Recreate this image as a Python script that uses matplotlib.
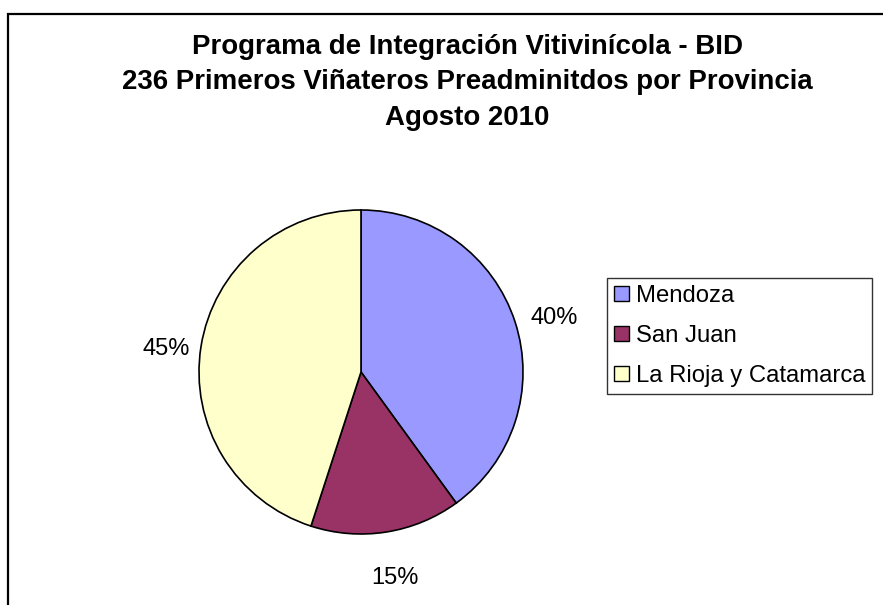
import matplotlib
matplotlib.use("Agg")
import matplotlib.pyplot as plt
from matplotlib.patches import Rectangle
from matplotlib.transforms import offset_copy

plt.rcParams['font.family'] = ['Liberation Sans', 'DejaVu Sans']

provincias = ["Mendoza", "San Juan", "La Rioja y Catamarca"]
porcentajes = [40, 15, 45]
colores = ["#9999FF", "#993366", "#FFFFCC"]
titulo = ("Programa de Integración Vitivinícola - BID\n"
          "236 Primeros Viñateros Preadminitdos por Provincia\n"
          "Agosto 2010")

W, H = 883, 605
fig = plt.figure(figsize=(W / 100, H / 100), dpi=100)

# outer chart frame (runs off the right and bottom edges)
fig.patches.append(Rectangle((8 / W, -0.05), 1.2, 1 - 14 / H + 0.05,
                             transform=fig.transFigure, fill=False,
                             edgecolor="black", linewidth=1.6))

fig.text(467 / W, 1 - 34 / H, titulo, ha="center", va="top",
         fontsize=19.9, fontweight="bold", linespacing=1.47)

# pie: centre (361, 372) px, radius 162 px
cx, cy, r = 361, 372, 162
ax = fig.add_axes([(cx - r) / W, (H - cy - r) / H, 2 * r / W, 2 * r / H])
wedges, texts, autotexts = ax.pie(
    porcentajes, colors=colores, startangle=90, counterclock=False,
    autopct="%d%%", pctdistance=1.235,
    wedgeprops=dict(edgecolor="black", linewidth=1.2),
    textprops=dict(fontsize=17))
ax.set_xlim(-1, 1)
ax.set_ylim(-1, 1)
ax.set_aspect("auto")
# Excel sets the percentage labels a little lower and to the right
shifted = offset_copy(ax.transData, fig=fig, x=3, y=-8, units="dots")
for t in autotexts:
    t.set_transform(shifted)

leg = fig.legend(wedges, provincias, loc="center left",
                 bbox_to_anchor=(607 / W, 1 - 336 / H),
                 fontsize=17.2, frameon=True, fancybox=False,
                 edgecolor="black", handlelength=0.6, handleheight=0.6,
                 handletextpad=0.3, labelspacing=0.75, borderpad=0.3,
                 borderaxespad=0)
leg.get_frame().set_linewidth(1.0)
for h in leg.legend_handles:
    h.set_edgecolor("black")
    h.set_linewidth(1.0)

fig.savefig("out.png", dpi=100)
